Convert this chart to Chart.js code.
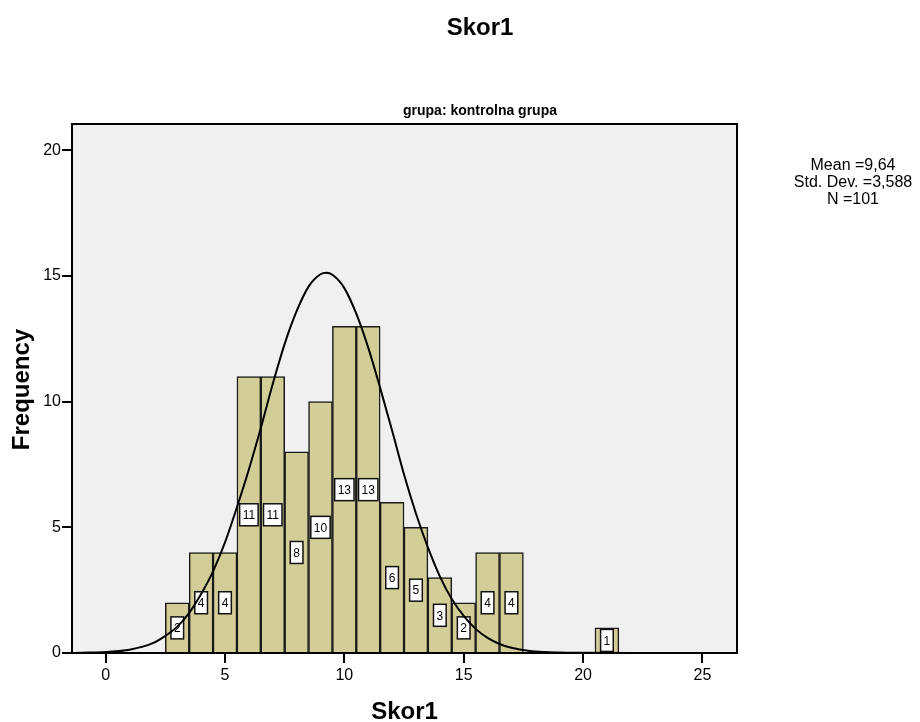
<!DOCTYPE html>
<html lang="en">
<head>
    <meta charset="UTF-8">
    <title>Skor1</title>
    <script src="https://cdn.jsdelivr.net/npm/chart.js"></script>
    <style>
        body { margin: 0; background: #fff; }
    </style>
</head>
<body>
    <canvas id="histChart" width="920" height="722"></canvas>
    <script>
        // score bins and how many students landed in each
        const scores = [3, 4, 5, 6, 7, 8, 9, 10, 11, 12, 13, 14, 15, 16, 17, 21];
        const counts = [2, 4, 4, 11, 11, 8, 10, 13, 13, 6, 5, 3, 2, 4, 4, 1];

        // normal curve overlay, read point by point
        const curveX = [-1.4, -1, 0, 1, 2, 2.5, 3, 3.5, 4, 4.5, 5, 5.5, 6, 6.5, 7, 7.5, 8, 8.5, 9, 9.25, 9.5, 10, 10.5, 11, 11.5, 12, 12.5, 13, 13.5, 14, 14.5, 15, 15.5, 16, 16.5, 17, 17.5, 18, 19, 20, 22, 24, 26.4];
        const curveY = [0, 0.01, 0.04, 0.13, 0.4, 0.68, 1.05, 1.6, 2.35, 3.25, 4.4, 5.8, 7.3, 8.95, 10.7, 12.3, 13.6, 14.58, 15.07, 15.13, 15.05, 14.52, 13.5, 12.15, 10.55, 8.85, 7.1, 5.55, 4.2, 3.05, 2.15, 1.48, 0.96, 0.6, 0.36, 0.21, 0.12, 0.06, 0.02, 0.01, 0, 0, 0];

        const xTicks = [0, 5, 10, 15, 20, 25];
        const yTicks = [0, 5, 10, 15, 20];
        const statLines = ['Mean =9,64', 'Std. Dev. =3,588', 'N =101'];

        const FONT = '"Liberation Sans", Arial, sans-serif';

        const frame = {
            id: 'frame',
            beforeDraw(chart) {
                const { ctx, chartArea: a } = chart;
                ctx.save();
                ctx.fillStyle = '#f0f0f0';
                ctx.fillRect(a.left, a.top, a.right - a.left, a.bottom - a.top);
                ctx.restore();
            },
            afterDatasetDraw(chart, args) {
                // value boxes sit halfway up each bar, under the curve
                if (args.index !== 0) return;
                const { ctx } = chart;
                const y = chart.scales.y;
                ctx.save();
                ctx.font = '12px ' + FONT;
                ctx.textAlign = 'center';
                ctx.textBaseline = 'middle';
                args.meta.data.forEach((bar, i) => {
                    const txt = String(counts[i]);
                    const w = ctx.measureText(txt).width + 6;
                    const h = 22;
                    const cy = y.getPixelForValue(counts[i] / 2);
                    ctx.fillStyle = '#fff';
                    ctx.fillRect(bar.x - w / 2, cy - h / 2, w, h);
                    ctx.strokeStyle = '#111';
                    ctx.lineWidth = 1.5;
                    ctx.strokeRect(bar.x - w / 2, cy - h / 2, w, h);
                    ctx.fillStyle = '#000';
                    ctx.fillText(txt, bar.x, cy + 1);
                });
                ctx.restore();
            },
            afterDraw(chart) {
                const { ctx, chartArea: a } = chart;
                ctx.save();
                ctx.strokeStyle = '#000';
                ctx.lineWidth = 2;
                ctx.strokeRect(a.left, a.top, a.right - a.left, a.bottom - a.top);

                ctx.fillStyle = '#000';
                ctx.textAlign = 'center';
                ctx.textBaseline = 'middle';
                ctx.font = 'bold 24px ' + FONT;
                ctx.fillText('Skor1', 480, 28);
                ctx.fillText('Skor1', (a.left + a.right) / 2, 712);

                ctx.font = 'bold 14px ' + FONT;
                ctx.fillText('grupa: kontrolna grupa', 480, 111);

                ctx.font = '16px ' + FONT;
                statLines.forEach((s, i) => ctx.fillText(s, 853, 166 + i * 17));

                ctx.translate(22, (a.top + a.bottom) / 2 + 1);
                ctx.rotate(-Math.PI / 2);
                ctx.font = 'bold 24px ' + FONT;
                ctx.fillText('Frequency', 0, 0);
                ctx.restore();
            }
        };

        const tickFont = { family: FONT, size: 16 };

        new Chart(document.getElementById('histChart'), {
            data: {
                datasets: [{
                    type: 'bar',
                    data: scores.map((s, i) => ({ x: s, y: counts[i] })),
                    backgroundColor: '#d3ce98',
                    borderColor: '#1a1a1a',
                    borderWidth: 1.5,
                    barPercentage: 1,
                    categoryPercentage: 1,
                    order: 2
                }, {
                    type: 'line',
                    data: curveX.map((x, i) => ({ x: x, y: curveY[i] })),
                    borderColor: '#000',
                    borderWidth: 2,
                    pointRadius: 0,
                    cubicInterpolationMode: 'monotone',
                    fill: false,
                    order: 1
                }]
            },
            options: {
                responsive: false,
                animation: false,
                layout: { padding: { top: 124, right: 183, left: 0, bottom: 0 } },
                plugins: {
                    legend: { display: false },
                    tooltip: { enabled: false }
                },
                scales: {
                    x: {
                        type: 'linear',
                        offset: false,
                        min: -1.41,
                        max: 26.45,
                        afterFit(scale) { scale.height = 69; },
                        afterBuildTicks(scale) { scale.ticks = xTicks.map(v => ({ value: v })); },
                        grid: { offset: false, drawOnChartArea: false, tickLength: 10, color: '#000', lineWidth: 2 },
                        border: { display: false },
                        ticks: { font: tickFont, color: '#000', padding: 3, maxRotation: 0 }
                    },
                    y: {
                        min: 0,
                        max: 21.05,
                        afterFit(scale) { scale.width = 72; },
                        afterBuildTicks(scale) { scale.ticks = yTicks.map(v => ({ value: v })); },
                        grid: { drawOnChartArea: false, tickLength: 10, color: '#000', lineWidth: 2 },
                        border: { display: false },
                        ticks: { font: tickFont, color: '#000', padding: 1 }
                    }
                }
            },
            plugins: [frame]
        });
    </script>
</body>
</html>
